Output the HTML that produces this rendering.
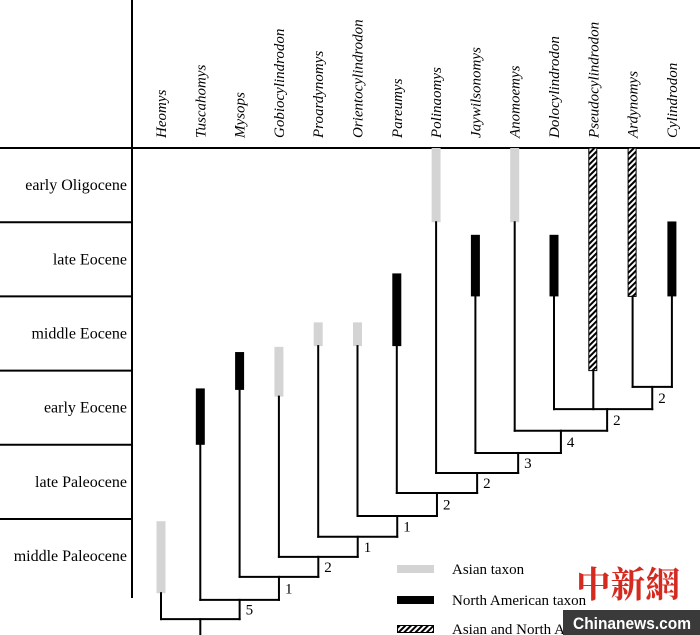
<!DOCTYPE html>
<html><head><meta charset="utf-8"><style>
html,body{margin:0;padding:0;background:#fff;}
svg{display:block;font-family:"Liberation Serif",serif;}
</style></head><body>
<svg id="c" width="700" height="635" viewBox="0 0 700 635">
<defs><pattern id="hatch" width="4" height="4" patternUnits="userSpaceOnUse" patternTransform="rotate(45)"><rect width="4" height="4" fill="#fff"/><rect width="2" height="4" fill="#000"/></pattern></defs>
<g id="axes"></g><g id="bars"></g><g id="tree"></g>
<g font-size="15">
<rect x="397" y="565" width="37" height="8" fill="#d4d4d4"/>
<text x="452" y="574">Asian taxon</text>
<rect x="397" y="596" width="37" height="8" fill="#000"/>
<text x="452" y="605">North American taxon</text>
<rect x="397.5" y="625.5" width="36" height="7" fill="url(#hatch)" stroke="#000"/>
<text x="452" y="634">Asian and North American taxon</text>
</g>
<text x="576" y="597" font-size="36" textLength="104" lengthAdjust="spacingAndGlyphs" fill="#d42a20" font-family="'Noto Serif CJK SC',serif" font-weight="bold">中新網</text>
<rect x="563" y="610" width="137" height="25" fill="#3a3a3a"/>
<text x="573" y="629" font-size="17" textLength="118" lengthAdjust="spacingAndGlyphs" fill="#fff" font-weight="bold" font-family="'Liberation Sans',sans-serif">Chinanews.com</text>
</svg>
<script>
const taxa=["Heomys","Tuscahomys","Mysops","Gobiocylindrodon","Proardynomys","Orientocylindrodon","Pareumys","Polinaomys","Jaywilsonomys","Anomoemys","Dolocylindrodon","Pseudocylindrodon","Ardynomys","Cylindrodon"];
const periods=["early Oligocene","late Eocene","middle Eocene","early Eocene","late Paleocene","middle Paleocene"];
// ranges in period units: 0=top of early Oligocene, 6=bottom of middle Paleocene
const rangeTop=[5.03,3.24,2.75,2.68,2.35,2.35,1.69,0,1.17,0,1.17,0,0,0.99];
const rangeBottom=[6.0,4.0,3.26,3.35,2.67,2.67,2.67,1.0,2.0,1.0,2.0,3.0,2.0,2.0];
const kind=["A","N","N","A","A","A","N","A","N","A","N","B","B","N"];
// clade node levels (period units), bottom node first
const nodeLevel=[6.35,6.09,5.78,5.51,5.24,4.96,4.65,4.38,4.11,3.81,3.52,3.22];
// support values on the branches between consecutive node levels, bottom first
const support=["5","1","2","1","1","2","2","3","4","2","2"];
const NS="http://www.w3.org/2000/svg";
const x0=161,dx=39.3,y0=148,rowH=74.2;
const xs=i=>x0+i*dx;
const ys=v=>y0+v*rowH;
function mk(tag,attrs,parent,text){const e=document.createElementNS(NS,tag);for(const k in attrs)e.setAttribute(k,attrs[k]);if(text!==undefined)e.textContent=text;document.getElementById(parent).appendChild(e);return e;}
let e=mk('line',{x1:0,y1:y0,x2:700,y2:y0,stroke:'#000','stroke-width':2},'axes');


e=mk('line',{x1:132,y1:0,x2:132,y2:598,stroke:'#000','stroke-width':2},'axes');


periods.forEach((p,i)=>{
 if(i>0){const l=mk('line',{x1:0,y1:ys(i),x2:132,y2:ys(i),stroke:'#000','stroke-width':2},'axes');
 
 }
 const t=mk('text',{x:127,y:ys(i+0.5)+5,'text-anchor':'end','font-size':16},'axes',p);
 
 
});
taxa.forEach((n,i)=>{
 const t=mk('text',{transform:`translate(${xs(i)+5},138) rotate(-90)`,'font-size':15,'font-style':'italic'},'axes',n);
 
 
});
taxa.forEach((n,i)=>{
 const fill=kind[i]==="A"?"#d4d4d4":kind[i]==="N"?"#000":"url(#hatch)";
 const r=mk('rect',{x:xs(i)-4.5,y:ys(rangeTop[i]),width:kind[i]==="B"?8:9,height:ys(rangeBottom[i])-ys(rangeTop[i]),fill:fill,stroke:kind[i]==="B"?"#000":"none"},'bars');
 
 
});
function ln(a,b,c,d){const l=mk('line',{x1:a,y1:b,x2:c,y2:d,stroke:'#000','stroke-width':2,'stroke-linecap':'square'},'tree');
 
 }
function lab(x,yA,yB,s){const t=mk('text',{x:x+6,y:(yA+yB)/2+5,'font-size':15},'tree',s);
 
 }
const n=nodeLevel.length;
const nodeX=[];
nodeX[n-1]=(xs(12)+xs(13))/2;
ln(xs(12),ys(nodeLevel[n-1]),xs(13),ys(nodeLevel[n-1]));
ln(xs(12),ys(rangeBottom[12]),xs(12),ys(nodeLevel[n-1]));
ln(xs(13),ys(rangeBottom[13]),xs(13),ys(nodeLevel[n-1]));
const yK=ys(nodeLevel[n-2]);
ln(xs(10),yK,nodeX[n-1],yK);
ln(xs(10),ys(rangeBottom[10]),xs(10),yK);
ln(xs(11),ys(rangeBottom[11]),xs(11),yK);
ln(nodeX[n-1],ys(nodeLevel[n-1]),nodeX[n-1],yK);
lab(nodeX[n-1],ys(nodeLevel[n-1]),yK,support[n-2]);
nodeX[n-2]=(xs(10)+nodeX[n-1])/2+4;
for(let k=n-3;k>=0;k--){
 const y=ys(nodeLevel[k]);
 const right=nodeX[k+1];
 ln(xs(k),y,right,y);
 ln(xs(k),ys(rangeBottom[k]),xs(k),y);
 ln(right,ys(nodeLevel[k+1]),right,y);
 lab(right,y,ys(nodeLevel[k+1]),support[k]);
 nodeX[k]=(xs(k)+right)/2;
}
ln(nodeX[0],ys(nodeLevel[0]),nodeX[0],635);
</script>
</body></html>
